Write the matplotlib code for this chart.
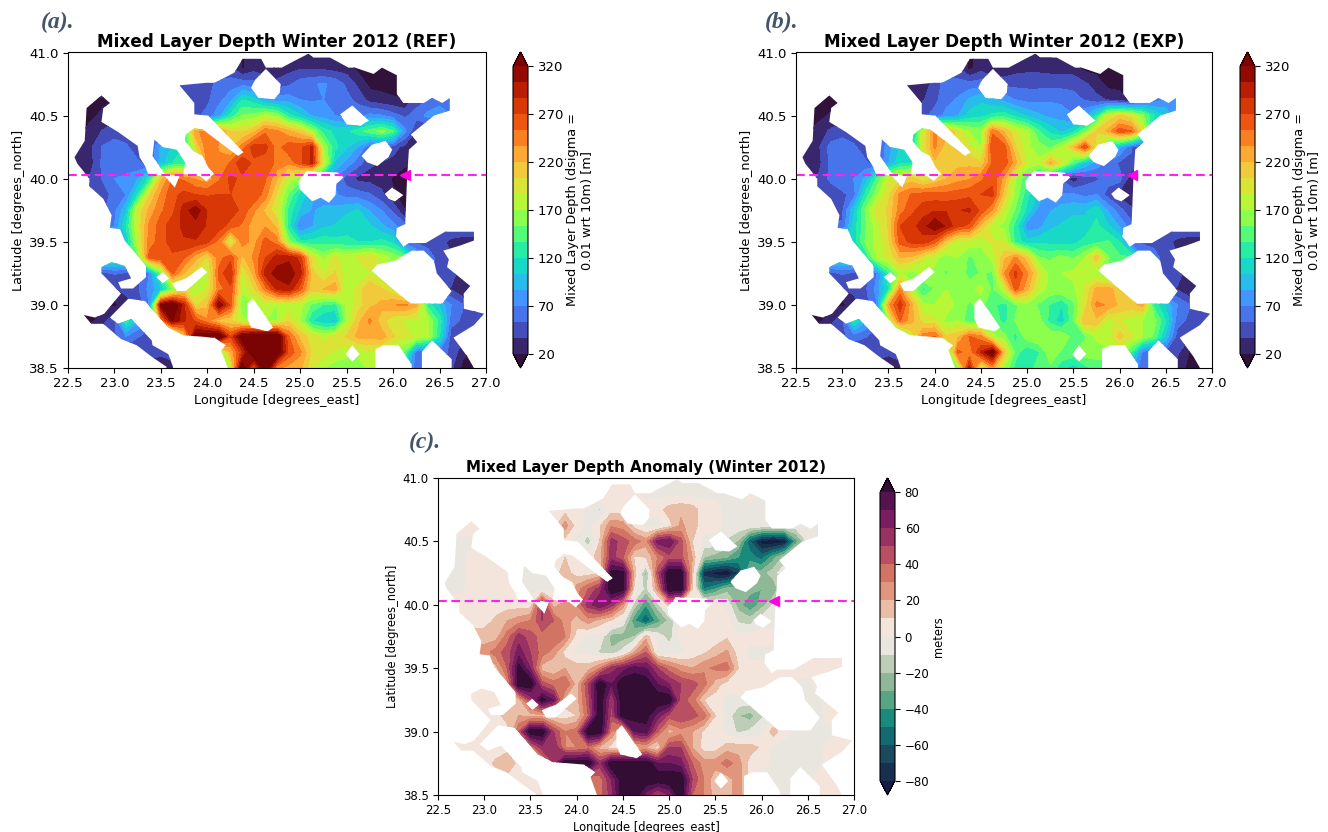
import matplotlib
matplotlib.use('Agg')
import matplotlib.pyplot as plt
from matplotlib.colors import ListedColormap
from matplotlib.path import Path
import numpy as np

lons = np.arange(37) * 0.125 + 22.5
lats = 41.0 - np.arange(21) * 0.125

# mixed layer depth, north to south; cells off the sea just repeat a neighbour
mld_ref = [
    [40]*15 + [18,30,25,25,25,20,15,15,22,22,20,15,14,14] + [14]*8,
    [40]*15 + [18,30,25,18,30,35,33,33,30,28,15,14,14,14] + [14]*8,
    [48]*10 + [48,48,48,58,62,65,60,50,45,50,62,68,72,65,50,32,15,15,14] + [14]*8,
    [15,15,15,15,20,22,25,30,35,40,45,48,50,65,80,120,110,85,78,80,70,68,70,68,58,48,30,25,22,20,45,55,60,60,60,60,60],
    [15,15,15,25,30,35,35,40,40,45,48,50,58,80,125,155,160,175,165,125,105,85,78,70,65,65,75,72,60,50,60,75,85,70,70,70,70],
    [15,18,28,38,45,48,50,50,55,70,130,235,240,240,205,200,215,250,240,225,210,170,130,115,115,130,145,160,140,75,35,30,30,30,30,30,30],
    [22,25,35,55,62,55,48,50,90,105,120,200,250,235,215,245,280,275,245,265,265,290,170,125,105,85,55,60,45,30,22,20,20,20,20,20,20],
    [22,25,32,58,68,65,55,50,95,120,125,135,245,240,255,285,265,262,250,240,265,290,190,100,80,60,40,35,30,22,20,20,20,20,20,20,20],
    [30,30,40,55,70,72,85,125,215,255,250,235,225,250,275,265,260,255,220,180,160,120,90,70,45,32,30,30,18,15,15,15,15,15,15,15,15],
    [30,30,35,45,60,70,120,200,240,265,275,270,268,270,270,270,268,245,200,150,115,90,78,72,62,60,55,40,22,15,15,15,15,15,15,15,15],
    [50,50,50,50,65,100,190,225,250,265,295,315,285,280,280,265,240,215,190,130,100,85,90,92,100,105,85,70,50,20,20,20,20,20,20,20,20],
    [70,70,70,70,70,120,190,240,262,280,290,295,285,280,262,250,225,235,215,125,65,85,100,105,112,115,105,90,75,60,60,60,60,60,60,60,60],
    [100,100,100,100,100,100,180,245,260,280,285,285,275,245,180,245,230,260,245,160,125,125,130,125,125,120,120,125,115,60,50,48,45,30,25,25,25],
    [130,130,130,130,130,130,150,260,270,265,255,225,200,245,265,215,240,270,295,300,280,195,165,190,180,190,200,180,165,150,90,60,48,38,30,30,30],
    [40,40,45,48,55,50,45,70,150,255,220,195,175,260,285,185,225,295,310,312,295,210,185,205,175,170,185,170,150,120,80,60,45,45,25,25,25],
    [35,35,35,35,35,42,50,75,100,155,195,170,190,245,265,175,200,245,290,300,260,210,220,230,170,195,220,205,190,150,70,50,40,35,20,20,20],
    [20,20,20,20,15,28,40,70,320,345,290,200,215,320,265,155,170,175,170,175,175,150,135,130,175,195,215,225,235,240,225,130,100,70,55,30,30],
    [15,15,15,30,50,130,90,60,240,320,290,265,240,210,205,175,165,170,170,200,170,120,105,100,170,215,240,210,190,185,180,170,130,60,50,45,45],
    [50,50,50,50,50,70,55,45,60,120,210,335,340,340,270,335,345,345,345,255,215,195,180,195,205,225,225,230,205,190,185,175,120,45,40,35,35],
    [40,40,40,40,40,40,30,48,40,50,60,90,120,150,220,280,350,350,345,265,240,200,195,185,175,175,185,175,160,150,60,55,60,50,25,15,15],
    [25,25,25,25,25,25,25,25,25,25,50,90,130,160,180,340,260,345,240,230,225,190,170,160,160,160,175,170,130,100,60,55,60,40,15,15,15],
]

# panel (b)
mld_exp = [
    [40]*15 + [15,30,25,25,25,20,15,15,22,22,20,15,14,14] + [14]*8,
    [40]*15 + [15,30,20,22,30,32,32,30,30,28,15,14,14,14] + [14]*8,
    [30]*10 + [30,32,40,65,60,60,62,55,48,48,48,48,48,48,48,40,28,14,14] + [14]*8,
    [15,15,15,15,18,20,22,25,28,30,32,35,48,65,72,90,100,90,82,70,65,65,68,65,60,52,42,35,28,18,50,60,72,85,85,85,85],
    [15,15,15,22,28,30,32,35,38,40,44,48,60,75,85,110,115,125,130,115,100,90,82,80,70,85,120,190,205,195,160,120,100,70,70,70,70],
    [15,18,28,40,45,48,50,50,55,70,95,190,240,225,195,170,165,250,220,190,175,140,115,100,115,150,205,225,265,255,195,90,60,55,55,55,55],
    [22,25,35,60,65,55,48,50,80,105,115,190,240,210,200,190,170,270,262,205,175,160,150,175,215,270,190,120,90,55,30,28,28,28,28,28,28],
    [22,25,32,58,68,68,55,48,85,115,120,145,215,205,215,215,205,255,265,225,185,175,225,190,140,100,80,65,50,50,30,30,30,30,30,30,30],
    [30,30,40,58,70,70,90,140,185,200,210,190,205,220,230,235,250,265,230,170,140,110,80,50,25,45,50,62,60,25,25,25,25,25,25,25,25],
    [40,40,40,40,48,62,125,165,200,240,255,260,260,258,262,265,270,275,210,165,125,100,70,72,72,65,70,45,30,25,25,25,25,25,25,25,25],
    [50,50,50,50,50,100,155,195,205,245,265,280,285,285,285,290,265,235,185,150,115,80,85,95,100,100,115,85,60,40,40,40,40,40,40,40,40],
    [55,55,55,55,55,110,150,180,205,270,280,295,320,300,275,265,215,175,165,130,75,80,100,105,110,110,125,105,85,60,60,60,60,60,60,60,60],
    [110,110,110,110,110,110,155,175,200,260,275,280,260,210,175,180,175,190,185,130,110,115,115,110,115,125,130,140,120,60,50,48,45,30,25,25,25],
    [120,120,120,120,120,120,120,175,190,220,215,190,175,160,170,150,160,175,215,240,210,155,150,160,150,170,215,155,140,140,70,60,45,38,30,30,30],
    [40,40,45,48,55,50,48,70,130,175,160,175,165,150,170,145,155,150,235,275,240,195,165,170,175,175,170,150,130,110,80,60,45,45,25,25,25],
    [35,35,35,35,35,42,50,75,120,240,175,130,155,170,170,165,175,150,180,260,225,180,165,170,165,190,225,230,205,150,70,50,40,35,20,20,20],
    [20,20,20,20,15,28,45,70,230,280,225,175,170,180,165,150,160,140,130,150,165,150,135,120,150,195,240,235,215,215,225,130,100,70,55,30,30],
    [15,15,15,30,50,125,90,60,170,255,225,195,190,165,170,140,150,150,130,155,170,160,130,110,150,220,215,180,190,175,170,160,120,60,50,45,45],
    [50,50,50,50,50,60,55,45,60,120,190,245,255,205,215,255,240,175,160,130,165,170,165,170,145,150,175,180,210,190,170,150,100,45,40,35,35],
    [40,40,40,40,40,40,30,48,40,50,60,85,110,130,260,240,290,335,215,145,120,135,165,150,150,165,160,165,175,135,65,55,50,40,20,15,15],
    [25,25,25,25,25,25,25,25,25,25,50,85,120,150,165,295,180,230,170,130,125,145,150,125,110,130,145,140,110,85,60,55,50,30,15,15,15],
]

# panel (c)
mld_anom = [
    [5]*18 + [-3]*19,
    [5]*18 + [-3]*9 + [5] + [-3]*9,
    [5]*13 + [-3,-12,5,5,5,5,5,15,18,15,5,4] + [-3]*12,
    [5]*11 + [25,5,-3,8,28,25,5,-3,-8,5,22,15,4,3] + [-3]*12,
    [-3]*5 + [5]*7 + [-3,-15,10,55,45,35,25,65,70,45,10,-3,-3,-12,-22,-60,-85,-90,-85,-35,-8,-3,-3,-3,-3],
    [-3,-3,-3,5,5,5,5,5,5,5,5,10,5,5,15,55,40,8,10,30,45,45,20,-20,-25,-30,-40,-45,-55,-35,-15,-3,-3,-3,-3,-3,-3],
    [-3,-3,-3,5,5,5,5,-3,-3,-3,5,15,5,5,10,85,85,15,-25,45,90,90,15,-75,-85,-90,-70,-25,-25,-15,-3,-3,-3,-3,-3,-3,-3],
    [-3,-3,-3,5,5,5,5,-3,-3,-3,-3,-3,25,40,55,90,85,5,-15,25,90,90,10,-50,-40,-25,-25,-25,-30,-30,-3,-3,-3,-3,-3,-3,-3],
    [5,5,5,5,5,5,5,5,5,55,15,25,30,55,70,55,25,-15,-40,-15,15,5,4,3,3,-3,-25,-40,-25,-10,-3,-3,-3,-3,-3,-3,-3],
    [5,5,5,5,5,12,20,25,30,50,40,25,15,25,15,8,-3,-40,-60,-35,-18,3,3,3,3,3,-12,-15,-3,-3,-3,-3,-3,-3,-3,-3,-3],
    [15,15,15,15,15,15,35,55,45,35,40,30,5,-3,-3,-25,-25,-20,15,-3,-15,3,3,3,3,8,3,3,3,3,3,3,3,3,3,3,3],
    [25,25,25,25,25,35,45,65,50,35,25,5,-3,-3,-12,-18,-5,20,40,-3,-3,-3,3,8,15,22,5,-3,-3,-3,3,3,3,3,3,3,3],
    [15,15,15,15,15,15,40,85,60,15,10,20,15,15,30,55,65,75,70,50,35,25,20,28,32,35,10,3,3,3,5,5,5,5,5,5,5],
    [5,5,5,5,5,5,25,90,90,45,35,40,15,50,90,70,90,90,88,70,60,50,45,35,15,5,5,8,5,3,-3,-3,-3,5,5,5,5],
    [5,5,5,5,5,5,5,15,50,85,70,15,15,45,90,50,90,90,85,90,90,45,35,10,5,-3,-3,-3,-3,-3,-3,-3,-3,-3,5,5,5],
    [5,5,5,5,5,5,15,20,15,15,5,5,10,40,90,45,90,85,85,65,45,50,45,35,10,-3,-20,-25,-12,-3,-3,-3,-3,-3,5,5,5],
    [5,5,5,5,5,5,5,40,90,90,50,30,35,90,90,30,5,70,75,40,15,25,20,8,3,-3,-12,-8,-3,15,3,-3,-3,-3,-3,-3,-3],
    [5,5,5,5,5,5,5,5,30,55,60,30,30,35,15,5,5,15,20,5,50,50,20,5,5,15,15,15,8,-3,-3,-3,-3,-3,5,5,5],
    [5,5,5,5,5,12,20,5,5,20,50,90,90,90,55,90,90,90,90,70,70,65,40,25,25,35,25,5,5,-3,-3,-3,-3,-3,5,5,5],
    [5,5,5,5,5,5,5,5,5,5,5,10,20,30,35,60,90,90,90,90,90,90,50,30,12,15,25,5,-3,-3,-3,-3,-3,5,5,5,5],
    [5,5,5,5,5,5,5,5,5,5,5,10,20,30,35,55,90,90,65,45,60,90,40,30,15,15,25,5,-3,-3,-3,-3,-3,5,5,5,5],
]

# sea outline and islands (lon, lat), same in all panels
coast = [
    (24.38,40.95),(24.58,40.95),(24.63,40.88),(24.74,40.88),(24.80,40.88),(24.98,40.95),(25.09,40.99),(25.14,40.96),
    (25.32,40.96),(25.52,40.88),(25.59,40.88),(25.79,40.83),(25.88,40.88),(26.04,40.82),(26.04,40.67),(26.11,40.60),
    (26.33,40.60),(26.42,40.64),(26.53,40.60),(26.61,40.64),(26.61,40.54),(26.44,40.50),(26.19,40.35),(26.26,40.29),
    (26.17,40.23),(26.15,40.00),(26.13,39.64),(26.04,39.61),(26.03,39.54),(26.11,39.46),(26.17,39.49),(26.35,39.49),
    (26.56,39.58),(26.87,39.58),(26.87,39.51),(26.72,39.47),(26.54,39.43),(26.60,39.36),(26.58,39.30),(26.83,39.15),
    (26.76,39.09),(26.76,38.97),(26.98,38.93),(26.87,38.84),(26.65,38.74),(26.80,38.59),(26.87,38.50),(26.87,38.40),
    (24.22,38.40),(24.22,38.50),(24.15,38.64),(24.20,38.68),(24.08,38.74),(23.74,38.76),(23.58,38.82),(23.33,39.03),
    (23.15,39.05),(22.95,38.90),(23.04,38.85),(23.18,38.89),(23.40,38.72),(23.41,38.68),(23.58,38.61),(23.63,38.51),
    (23.63,38.40),(23.56,38.40),(23.56,38.51),(23.40,38.59),(23.24,38.68),(23.07,38.73),(22.88,38.85),(22.75,38.85),
    (22.67,38.92),(22.79,38.90),(22.89,38.93),(23.07,39.09),(22.86,39.25),(22.86,39.30),(22.97,39.34),(23.11,39.31),
    (23.18,39.21),(23.04,39.18),(23.07,39.13),(23.20,39.13),(23.34,39.22),(23.34,39.31),(23.11,39.51),(23.06,39.60),
    (22.95,39.61),(22.97,39.71),(22.88,39.84),(22.73,39.94),(22.73,40.00),(22.60,40.12),(22.57,40.17),(22.68,40.30),
    (22.70,40.56),(22.86,40.66),(22.95,40.60),(22.88,40.56),(22.86,40.45),(23.04,40.37),(23.25,40.26),(23.27,40.17),
    (23.33,40.10),(23.36,40.04),(23.54,40.02),(23.65,39.93),(23.70,40.02),(23.54,40.04),(23.41,40.18),(23.43,40.31),
    (23.52,40.25),(23.67,40.23),(23.76,40.13),(23.74,40.04),(23.92,40.02),(23.99,39.98),(24.07,40.04),(24.01,40.09),
    (23.95,40.18),(23.85,40.22),(23.76,40.30),(23.77,40.35),(23.86,40.40),(23.95,40.39),(24.33,40.18),(24.39,40.21),
    (24.01,40.50),(23.86,40.51),(23.86,40.60),(23.70,40.74),(23.99,40.76),(24.08,40.76),(24.29,40.84),
]
islands = [
    [(24.63,40.87),(24.79,40.75),(24.78,40.68),(24.72,40.63),(24.55,40.64),(24.47,40.72),(24.51,40.78)],
    [(25.43,40.51),(25.56,40.58),(25.74,40.46),(25.65,40.42),(25.50,40.43)],
    [(25.66,40.18),(25.77,40.27),(25.92,40.30),(25.99,40.23),(25.95,40.17),(25.83,40.10),(25.72,40.13)],
    [(24.98,39.98),(25.07,40.06),(25.40,40.05),(25.47,40.01),(25.39,39.96),(25.38,39.87),(25.31,39.81),(25.22,39.85),
     (25.13,39.82),(24.99,39.92)],
    [(25.91,39.88),(25.99,39.93),(26.11,39.87),(26.02,39.82),(25.95,39.84)],
    [(25.77,39.27),(25.83,39.32),(26.02,39.35),(26.20,39.43),(26.33,39.43),(26.44,39.35),(26.47,39.25),(26.63,39.11),
     (26.53,39.01),(26.19,39.01),(25.99,39.13)],
    [(23.45,39.22),(23.52,39.26),(23.59,39.21),(23.52,39.17)],
    [(23.62,39.17),(23.77,39.21),(23.94,39.30),(24.00,39.26),(23.77,39.11),(23.67,39.11)],
    [(24.43,39.01),(24.49,39.05),(24.56,38.98),(24.71,38.82),(24.65,38.79),(24.47,38.82),(24.43,38.89)],
    [(25.49,38.61),(25.56,38.68),(25.64,38.61),(25.56,38.55)],
    [(25.81,38.65),(25.90,38.68),(26.06,38.68),(26.20,38.53),(26.20,38.45),(25.81,38.45)],
    [(26.31,38.63),(26.42,38.72),(26.63,38.57),(26.63,38.45),(26.31,38.45)],
]

section_lat = 40.03
section_lon = 26.13

ref_levels = np.linspace(20, 320, 19)
anom_levels = np.linspace(-80, 80, 17)
anom_colors = ['#17304f', '#1b4a5f', '#136a70', '#1a8a7a', '#57a585', '#8fb897', '#bdcdb6', '#e8e6df',
               '#f3e4dc', '#e9bda6', '#e2957d', '#d17463', '#b84f63', '#983263', '#7a1d60', '#561351']

W, H = 1328, 832


def ax_rect(left, right, top, bottom):
    return [left / W, 1 - bottom / H, (right - left) / W, (bottom - top) / H]


def ring(points, clockwise):
    pts = np.array(points)
    x, y = pts[:, 0], pts[:, 1]
    area = 0.5 * np.sum(x * np.roll(y, -1) - np.roll(x, -1) * y)
    if (area < 0) != clockwise:
        pts = pts[::-1]
    return np.vstack([pts, pts[:1]])


def sea_path():
    verts, codes = [], []
    for r in [ring(coast, True)] + [ring(i, False) for i in islands]:
        verts.extend(r.tolist())
        codes += [Path.MOVETO] + [Path.LINETO] * (len(r) - 2) + [Path.CLOSEPOLY]
    return Path(verts, codes)


def draw_panel(rect, cax_rect, data, levels, cmap, title, cbar_label, tag, tag_xy, ticks, fs, title_fs):
    ax = fig.add_axes(ax_rect(*rect))
    cs = ax.contourf(lons, lats, np.array(data, dtype=float), levels=levels, cmap=cmap, extend='both')
    cs.set_clip_path(sea_path(), ax.transData)
    ax.axhline(section_lat, color='#ff22ee', ls=(0, (4.2, 2.2)), lw=1.5)
    ax.plot([section_lon], [section_lat], marker='<', color='#ff00e6', ms=7)
    ax.set_xlim(22.5, 27)
    ax.set_ylim(38.5, 41)
    ax.set_xticks(np.arange(22.5, 27.01, 0.5))
    ax.set_yticks(np.arange(38.5, 41.01, 0.5))
    ax.tick_params(labelsize=fs, length=3.5, pad=3)
    ax.set_xlabel('Longitude [degrees_east]', fontsize=fs - 0.2, labelpad=3)
    ax.set_ylabel('Latitude [degrees_north]', fontsize=fs - 0.2, labelpad=3)
    ax.set_title(title, fontsize=title_fs, fontweight='bold', pad=4)

    cax = fig.add_axes(ax_rect(*cax_rect))
    cb = fig.colorbar(cs, cax=cax, ticks=ticks)
    cb.ax.tick_params(labelsize=fs, length=3.5)
    cb.set_label(cbar_label, fontsize=fs - 0.2, labelpad=2)

    fig.text(tag_xy[0] / W, 1 - tag_xy[1] / H, tag, family='Liberation Serif', style='italic', fontweight='bold',
             fontsize=17, color='#44546a', va='center')


fig = plt.figure(figsize=(W / 100, H / 100), dpi=100)

cm_anom = ListedColormap(anom_colors)
cm_anom.set_under('#151d44')
cm_anom.set_over('#340d35')

mld_label = 'Mixed Layer Depth (dsigma =\n0.01 wrt 10m) [m]'
draw_panel((68, 486, 52.5, 368), (513, 528, 52, 368), mld_ref, ref_levels, 'turbo',
           'Mixed Layer Depth Winter 2012 (REF)', mld_label, '(a).', (41, 22), ref_levels[::3], 9.5, 12.2)
draw_panel((796, 1212, 52.5, 368), (1240, 1255, 52, 368), mld_exp, ref_levels, 'turbo',
           'Mixed Layer Depth Winter 2012 (EXP)', mld_label, '(b).', (765, 22), ref_levels[::3], 9.5, 12.2)
draw_panel((438, 854, 478, 795), (880, 895, 478, 795), mld_anom, anom_levels, cm_anom,
           'Mixed Layer Depth Anomaly (Winter 2012)', 'meters', '(c).', (409, 442), anom_levels[::2], 8.5, 10.8)

fig.savefig('out.png', dpi=100)
